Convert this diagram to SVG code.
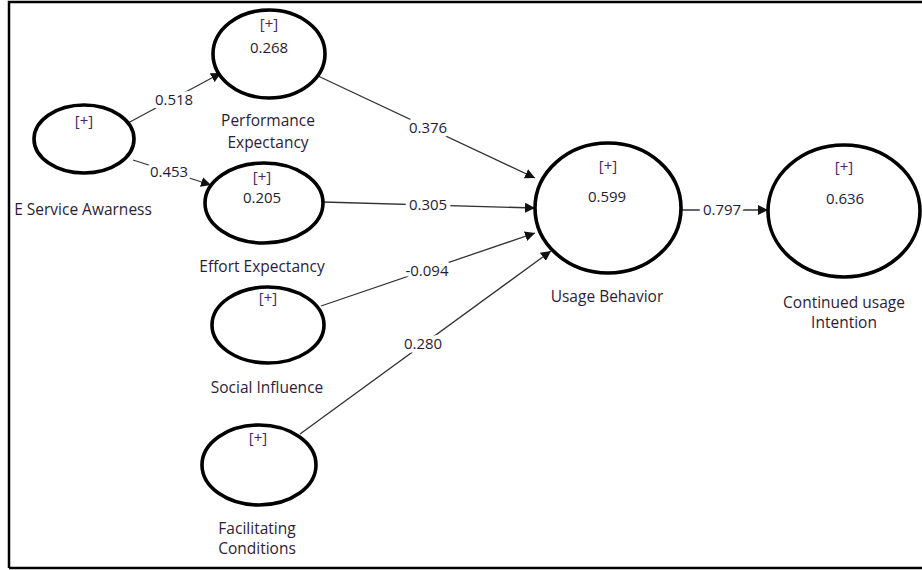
<svg xmlns="http://www.w3.org/2000/svg" width="922" height="570" viewBox="0 0 922 570">
<defs>
<marker id="arr" viewBox="0 0 10 10" refX="10" refY="5" markerWidth="10" markerHeight="10" markerUnits="userSpaceOnUse" orient="auto">
<path d="M0,0 L10,5 L0,10 z" fill="#111"/>
</marker>
<style>
.node{fill:#fff;stroke:#000;stroke-width:3.6}
.lbl{font-family:"Open Sans","DejaVu Sans",sans-serif;font-size:15.5px;fill:#2e1c36;text-anchor:middle}
.plus{font-family:"Open Sans","DejaVu Sans",sans-serif;font-size:15px;fill:#4e2464;text-anchor:middle}
.val{font-family:"Open Sans","DejaVu Sans",sans-serif;font-size:15px;fill:#1f1d33;text-anchor:middle}
.edge{stroke:#333;stroke-width:1.3;fill:none;marker-end:url(#arr)}
.elbl{font-family:"Open Sans","DejaVu Sans",sans-serif;font-size:15px;fill:#1f1d33;text-anchor:middle;stroke:#fff;stroke-width:8;paint-order:stroke;stroke-linejoin:round}
</style>
</defs>
<rect x="0" y="0" width="922" height="570" fill="#fff"/>
<path d="M9,568 V2 H922 M9,568 H922" fill="none" stroke="#000" stroke-width="2.5"/>
<g id="connectors">
<line class="edge" x1="128" y1="123" x2="221" y2="73"/>
<line class="edge" x1="133" y1="160" x2="211" y2="185"/>
<line class="edge" x1="318" y1="76" x2="535" y2="178"/>
<line class="edge" x1="323" y1="202" x2="535" y2="208"/>
<line class="edge" x1="321" y1="306" x2="535" y2="233"/>
<line class="edge" x1="300" y1="434" x2="551" y2="251"/>
<line class="edge" x1="682" y1="210" x2="768" y2="210"/>
<text class="elbl" x="174" y="105">0.518</text>
<text class="elbl" x="169" y="177">0.453</text>
<text class="elbl" x="428" y="133">0.376</text>
<text class="elbl" x="428" y="210">0.305</text>
<text class="elbl" x="427" y="276">-0.094</text>
<text class="elbl" x="423" y="349">0.280</text>
<text class="elbl" x="722" y="215">0.797</text>
</g>
<g id="esa">
<ellipse class="node" cx="84" cy="139" rx="50" ry="34"/>
<text class="plus" x="84" y="126">[+]</text>
<text class="lbl" x="83" y="215">E Service Awarness</text>
</g>
<g id="pe">
<ellipse class="node" cx="269" cy="54" rx="56" ry="44"/>
<text class="plus" x="269" y="29">[+]</text>
<text class="val" x="269" y="53">0.268</text>
<text class="lbl" x="268" y="126">Performance</text>
<text class="lbl" x="268" y="148">Expectancy</text>
</g>
<g id="ee">
<ellipse class="node" cx="264" cy="203" rx="59" ry="40"/>
<text class="plus" x="262" y="182">[+]</text>
<text class="val" x="262" y="203">0.205</text>
<text class="lbl" x="262" y="272">Effort Expectancy</text>
</g>
<g id="si">
<ellipse class="node" cx="268" cy="325" rx="56" ry="38"/>
<text class="plus" x="268" y="303">[+]</text>
<text class="lbl" x="267" y="393">Social Influence</text>
</g>
<g id="fc">
<ellipse class="node" cx="259" cy="465" rx="57" ry="40"/>
<text class="plus" x="258" y="443">[+]</text>
<text class="lbl" x="257" y="534">Facilitating</text>
<text class="lbl" x="257" y="554">Conditions</text>
</g>
<g id="ub">
<ellipse class="node" cx="608" cy="208" rx="73" ry="65"/>
<text class="plus" x="608" y="171">[+]</text>
<text class="val" x="607" y="202">0.599</text>
<text class="lbl" x="607" y="302">Usage Behavior</text>
</g>
<g id="cui">
<ellipse class="node" cx="844" cy="211" rx="76" ry="66"/>
<text class="plus" x="844" y="172">[+]</text>
<text class="val" x="845" y="204">0.636</text>
<text class="lbl" x="844" y="308">Continued usage</text>
<text class="lbl" x="844" y="328">Intention</text>
</g>
</svg>
